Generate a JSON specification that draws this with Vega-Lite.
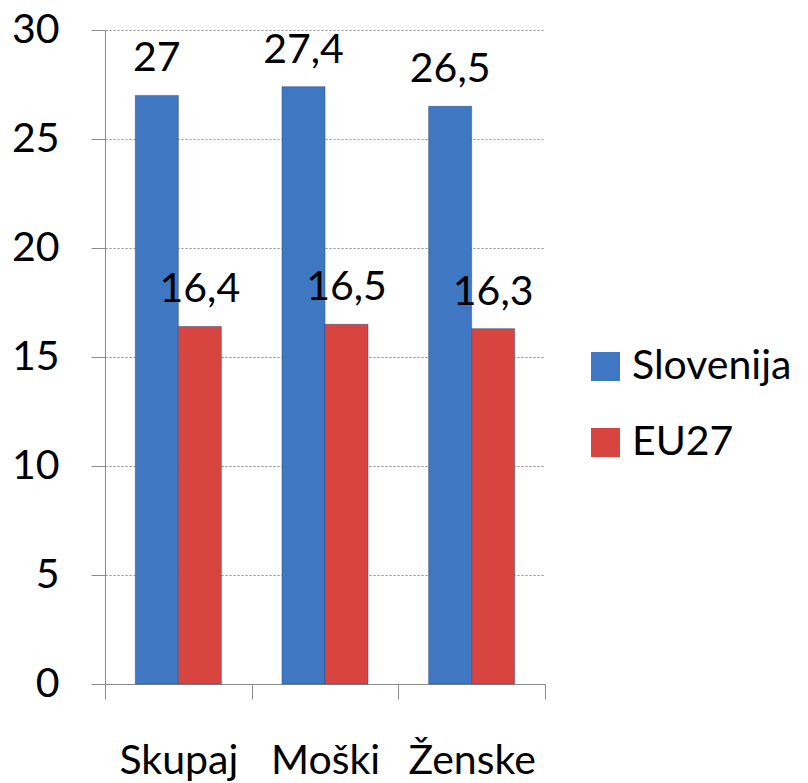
{
  "$schema": "https://vega.github.io/schema/vega-lite/v6.json",
  "autosize": {"type": "none"},
  "width": 440,
  "height": 654,
  "padding": {"left": 105, "top": 30, "right": 263, "bottom": 99},
  "background": "white",
  "config": {
    "font": "Lato",
    "view": {"stroke": null}
  },
  "data": {
    "values": [
      {"skupina": "Skupaj", "serija": "Slovenija", "vrednost": 27, "oznaka": "27"},
      {"skupina": "Skupaj", "serija": "EU27", "vrednost": 16.4, "oznaka": "16,4"},
      {"skupina": "Moški", "serija": "Slovenija", "vrednost": 27.4, "oznaka": "27,4"},
      {"skupina": "Moški", "serija": "EU27", "vrednost": 16.5, "oznaka": "16,5"},
      {"skupina": "Ženske", "serija": "Slovenija", "vrednost": 26.5, "oznaka": "26,5"},
      {"skupina": "Ženske", "serija": "EU27", "vrednost": 16.3, "oznaka": "16,3"}
    ]
  },
  "encoding": {
    "x": {
      "field": "skupina",
      "type": "nominal",
      "sort": ["Skupaj", "Moški", "Ženske"],
      "scale": {"paddingInner": 0, "paddingOuter": 0},
      "axis": {
        "title": null,
        "labelAngle": 0,
        "labelFontSize": 41,
        "labelColor": "black",
        "labelPadding": 42,
        "tickBand": "extent",
        "tickSize": 15,
        "tickColor": "#8c8c8c",
        "domainColor": "#8c8c8c",
        "grid": false
      }
    },
    "xOffset": {
      "field": "serija",
      "type": "nominal",
      "sort": ["Slovenija", "EU27"],
      "scale": {"paddingInner": 0, "paddingOuter": 0.705}
    },
    "y": {
      "field": "vrednost",
      "type": "quantitative",
      "scale": {"domain": [0, 30]},
      "axis": {
        "title": null,
        "values": [0, 5, 10, 15, 20, 25, 30],
        "labelFontSize": 41,
        "labelColor": "black",
        "labelPadding": 32,
        "tickSize": 14,
        "tickColor": "#8c8c8c",
        "domainColor": "#8c8c8c",
        "gridColor": "#8c8c8c",
        "gridDash": [2, 2],
        "gridWidth": 1
      }
    }
  },
  "layer": [
    {
      "mark": {"type": "bar", "stroke": "#2a4f80", "strokeWidth": 0.5},
      "encoding": {
        "color": {
          "field": "serija",
          "type": "nominal",
          "sort": ["Slovenija", "EU27"],
          "scale": {"domain": ["Slovenija", "EU27"], "range": ["#3f77c2", "#d84540"]},
          "legend": {
            "title": null,
            "orient": "none",
            "legendX": 480,
            "legendY": 316,
            "symbolType": "square",
            "symbolSize": 841,
            "symbolStrokeWidth": 0,
            "labelFontSize": 41,
            "labelColor": "black",
            "labelOffset": 6,
            "labelLimit": 400,
            "rowPadding": 34
          }
        }
      }
    },
    {
      "mark": {"type": "text", "baseline": "alphabetic", "dy": -24, "fontSize": 41, "color": "black"},
      "encoding": {
        "text": {"field": "oznaka", "type": "nominal"}
      }
    }
  ]
}
